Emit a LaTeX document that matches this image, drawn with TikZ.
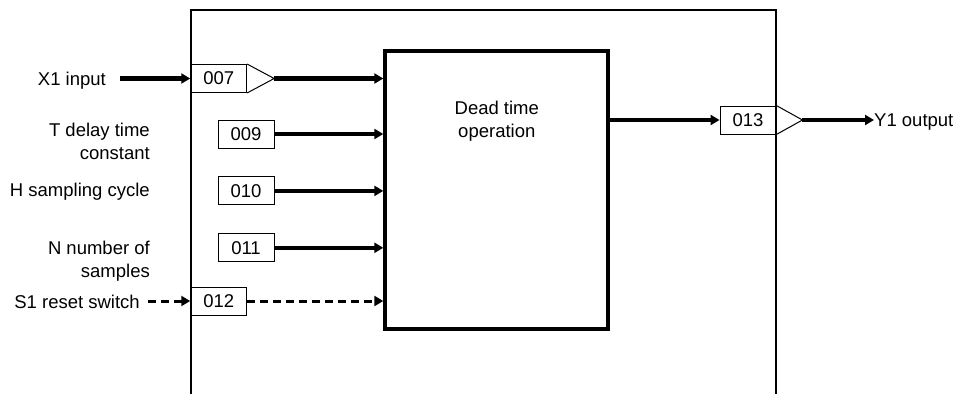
\documentclass[tikz,border=0pt]{standalone}
\usepackage{fontspec}
\setmainfont{Liberation Sans}
\usetikzlibrary{arrows.meta,positioning}

\begin{document}
\begin{tikzpicture}[
  x=1pt, y=-1pt,
  font=\fontsize{18.5}{23}\selectfont,
  frame/.style={line width=1.6pt},
  block/.style={rectangle, draw=black, line width=4pt, minimum width=223pt, minimum height=278pt},
  numbox/.style={rectangle, draw=black, line width=0.9pt, minimum width=56pt, minimum height=28pt, inner sep=0pt},
  amp/.style={draw=black, line width=1pt, line join=miter},
  label/.style={align=right, inner sep=0pt, anchor=base east},
  arrow/.style={-{Triangle[length=9pt,width=10pt]}, line width=4.4pt},
  dasharrow/.style={arrow, line width=3pt, dash pattern=on 8pt off 5pt}
]
\useasboundingbox (0,0) rectangle (958,394);

% outer frame, open at the bottom
\draw[frame] (190.7,394) -- (190.7,10) -- (776,10) -- (776,394);

\node[block] (dt) at (496.8,190) {};
\node[align=center] (dttext) at (496.8,121) {Dead time\\operation};

\node[numbox] (n007) at (218.7,78.5) {007};
\node[numbox] (n009) at (246,134) {009};
\node[numbox, below=28pt of n009] (n010) {010};
\node[numbox, below=28pt of n010] (n011) {011};
\node[numbox] (n012) at (218.7,301) {012};
\node[numbox] (n013) at (748,120) {013};

\coordinate (t007) at ([xshift=27pt]n007.east);
\coordinate (t013) at ([xshift=26pt]n013.east);
\draw[amp] (n007.north east) -- (t007) -- (n007.south east);
\draw[amp] (n013.north east) -- (t013) -- (n013.south east);

\node[label] (x1) at (106,85.5) {X1 input};
\node[label] (tdel) at (150,159) {T delay time\\constant};
\node[label] (hsam) at (150,196.6) {H sampling cycle};
\node[label] (nnum) at (150,277) {N number of\\samples};
\node[label] (s1) at (140,308) {S1 reset switch};
\node[inner sep=0pt, anchor=base west] (y1) at (874,126.6) {Y1 output};

\draw[arrow, shorten <=14pt] (x1.east |- n007.west) -- (n007.west);
\draw[arrow] (t007) -- (t007 -| dt.west);
\draw[arrow] (n009.east) -- (n009.east -| dt.west);
\draw[arrow] (n010.east) -- (n010.east -| dt.west);
\draw[arrow] (n011.east) -- (n011.east -| dt.west);
\draw[dasharrow, shorten <=8pt] (s1.east |- n012.west) -- (n012.west);
\draw[dasharrow] (n012.east) -- (n012.east -| dt.west);
\draw[arrow] (dt.east |- n013.west) -- (n013.west);
\draw[arrow] (t013) -- (y1.west |- t013);
\end{tikzpicture}
\end{document}
